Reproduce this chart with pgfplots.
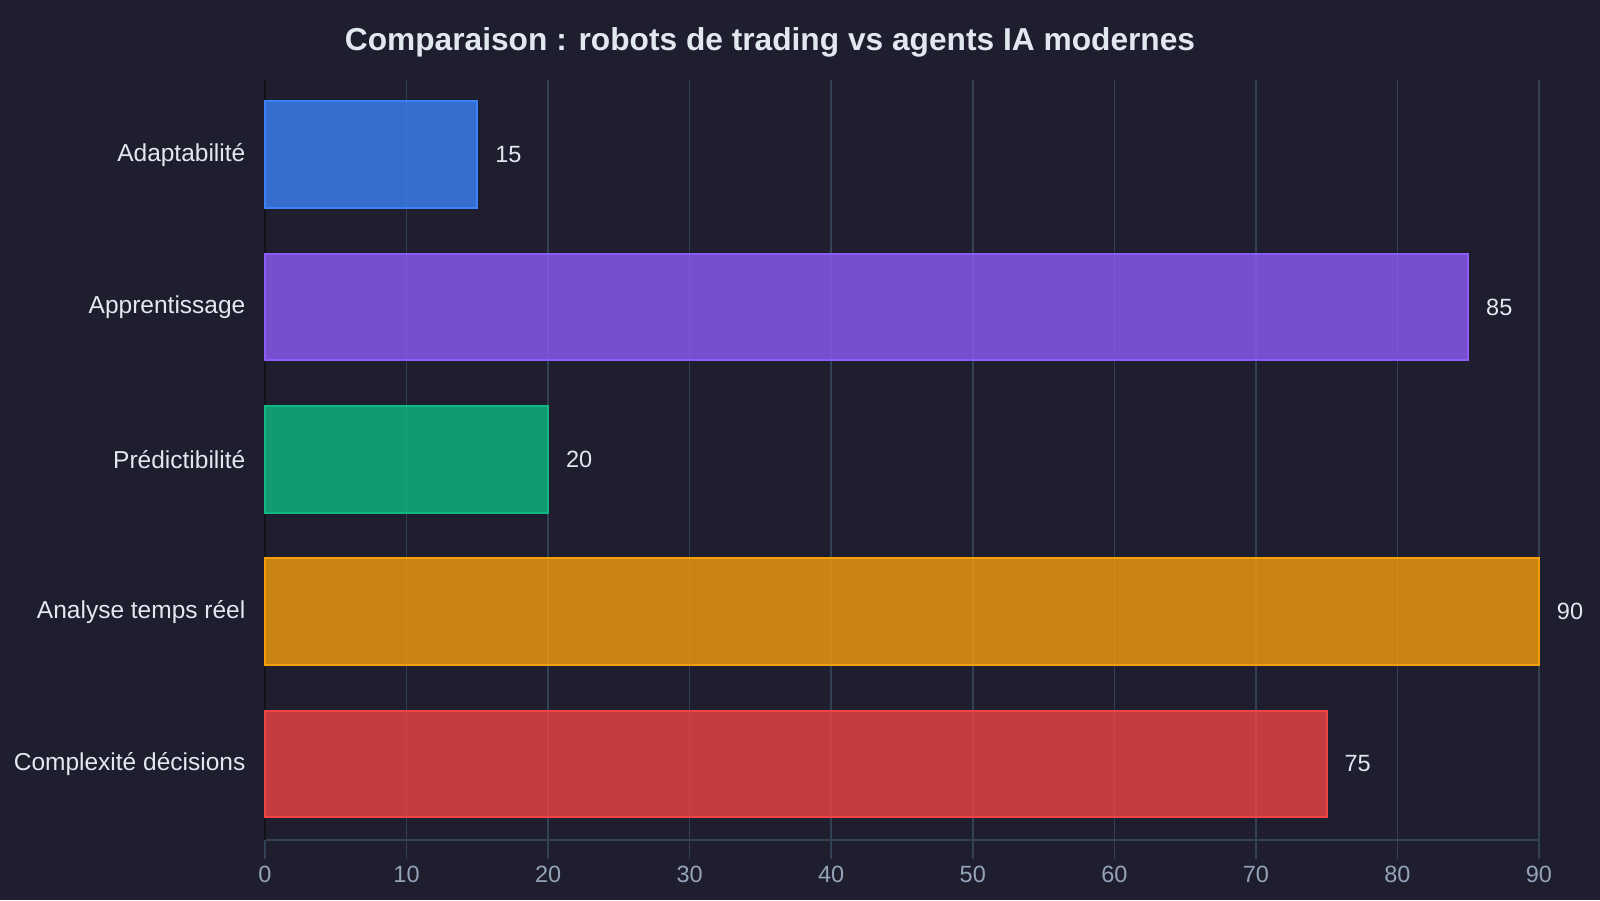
\documentclass[border=0pt]{standalone}
\usepackage{fontspec}
\setmainfont{Liberation Sans}
\usepackage{pgfplots}
\pgfplotsset{compat=1.18}

\definecolor{bg}{HTML}{1E1E2E}
\definecolor{gridc}{HTML}{334155}
\definecolor{tickc}{HTML}{94A3B8}
\definecolor{textc}{HTML}{E2E8F0}
\definecolor{spinec}{HTML}{111118}
\definecolor{cblue}{HTML}{3B82F6}
\definecolor{cpurple}{HTML}{8B5CF6}
\definecolor{cgreen}{HTML}{10B981}
\definecolor{corange}{HTML}{F59E0B}
\definecolor{cred}{HTML}{EF4444}

\begin{document}
\begin{tikzpicture}
% page background, 1600 x 900 units of 0.5pt
\fill[bg] (0,0) rectangle (800pt,450pt);
\node[font=\bfseries\fontsize{15.85}{19}\selectfont, text=textc] at (385pt,429pt)
  {Comparaison : robots de trading vs agents IA modernes};
\begin{axis}[
  at={(132.5pt,30pt)}, anchor=south west,
  scale only axis, width=637pt, height=380pt,
  xmin=0, xmax=90, ymin=-0.49, ymax=4.5,
  y dir=reverse,
  xtick={0,10,...,90},
  ytick={0,1,2,3,4},
  yticklabels={Adaptabilité, Apprentissage, Prédictibilité, Analyse temps réel, Complexité décisions},
  axis x line*=bottom, axis y line*=left,
  x axis line style={draw=gridc, line width=0.8pt, -},
  y axis line style={draw=spinec, line width=0.8pt, -},
  xmajorgrids, major grid style={draw=gridc, line width=0.8pt},
  xtick align=outside, major tick length=9.5pt,
  xtick style={draw=gridc, line width=0.8pt},
  ytick style={draw=none},
  /pgf/number format/assume math mode=true,
  xticklabel style={text=tickc, font=\fontsize{11.75}{14}\selectfont, yshift=0pt},
  yticklabel style={text=textc, font=\fontsize{12.25}{14}\selectfont, xshift=3.2pt},
  xbar, bar width=0.7, bar shift=0pt,
  nodes near coords,
  every node near coord/.append style={text=textc, opacity=1, anchor=west, inner sep=0pt, xshift=8.5pt, font=\fontsize{11.75}{14}\selectfont},
  clip=false,
]
\addplot[draw=cblue, line width=1pt, fill=cblue, fill opacity=0.8] coordinates {(15,0)};
\addplot[draw=cpurple, line width=1pt, fill=cpurple, fill opacity=0.8] coordinates {(85,1)};
\addplot[draw=cgreen, line width=1pt, fill=cgreen, fill opacity=0.8] coordinates {(20,2)};
\addplot[draw=corange, line width=1pt, fill=corange, fill opacity=0.8] coordinates {(90,3)};
\addplot[draw=cred, line width=1pt, fill=cred, fill opacity=0.8] coordinates {(75,4)};
\end{axis}
\pgfresetboundingbox
\useasboundingbox (0,0) rectangle (800pt,450pt);
\end{tikzpicture}
\end{document}
